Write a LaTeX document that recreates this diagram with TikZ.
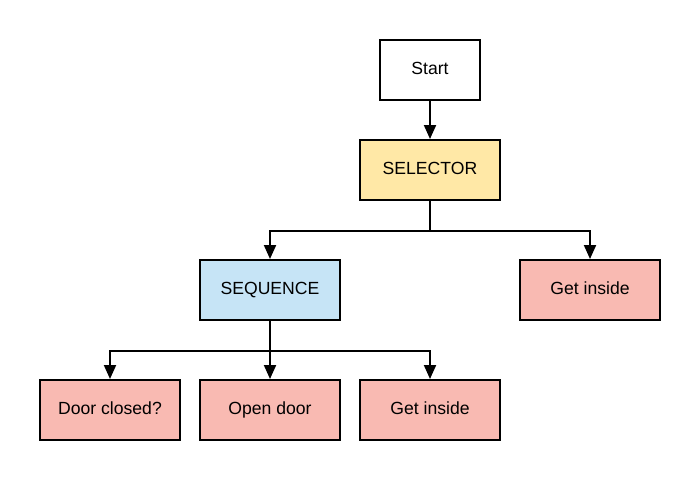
\documentclass[tikz,border=0pt]{standalone}
\usepackage{fontspec}
\setmainfont{Liberation Sans}
\usetikzlibrary{arrows.meta}
\definecolor{selfill}{HTML}{FFE8A6}
\definecolor{seqfill}{HTML}{C6E4F6}
\definecolor{actfill}{HTML}{F9BAB2}
\begin{document}
\begin{tikzpicture}[x=1pt,y=-1pt,
  box/.style={draw=black,line width=2pt,minimum width=140pt,minimum height=60pt,inner sep=0pt,text height=12.5pt,text depth=3.5pt,font=\fontsize{17.6}{20}\selectfont},
  arr/.style={draw=black,line width=2pt,-{Triangle[width=12pt,length=14pt]}},
  ln/.style={draw=black,line width=2pt}]
\useasboundingbox (0,0) rectangle (700,480);
\fill[white] (0,0) rectangle (700,480);
\node[box,minimum width=100pt,fill=white] (start) at (430,70) {Start};
\node[box,fill=selfill] (sel) at (430,170) {SELECTOR};
\node[box,fill=seqfill] (seq) at (270,290) {SEQUENCE};
\node[box,fill=actfill] (gi1) at (590,290) {Get inside};
\node[box,fill=actfill] (dc) at (110,410) {Door closed?};
\node[box,fill=actfill] (od) at (270,410) {Open door};
\node[box,fill=actfill] (gi2) at (430,410) {Get inside};
\coordinate (j1) at ([yshift=-30pt]sel.south);
\coordinate (j2) at ([yshift=-30pt]seq.south);
\draw[arr] (start) -- (sel);
\draw[ln] (sel.south) -- (j1);
\draw[arr] (j1) -| (seq.north);
\draw[arr] (j1) -| (gi1.north);
\draw[arr] (seq.south) -- (od.north);
\draw[arr] (j2) -| (dc.north);
\draw[arr] (j2) -| (gi2.north);
\end{tikzpicture}
\end{document}
